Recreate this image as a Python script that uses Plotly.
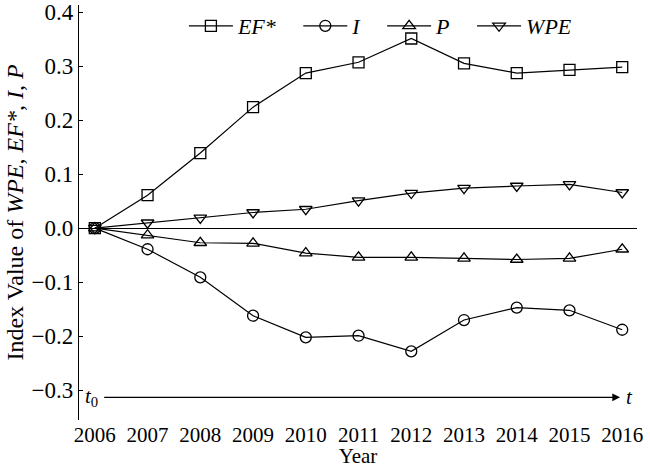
import plotly.graph_objects as go

years = [2006, 2007, 2008, 2009, 2010, 2011, 2012, 2013, 2014, 2015, 2016]
ef = [0.0, 0.061, 0.139, 0.224, 0.287, 0.307, 0.351, 0.305, 0.287, 0.293, 0.298]
inn = [0.0, -0.039, -0.091, -0.162, -0.202, -0.199, -0.228, -0.170, -0.147, -0.152, -0.188]
pp = [0.0, -0.013, -0.027, -0.028, -0.046, -0.054, -0.054, -0.056, -0.058, -0.056, -0.039]
wpe = [0.0, 0.010, 0.019, 0.029, 0.035, 0.051, 0.065, 0.074, 0.078, 0.081, 0.066]
yticks = [-0.3, -0.2, -0.1, 0.0, 0.1, 0.2, 0.3, 0.4]
ytick_text = ["\u22120.3", "\u22120.2", "\u22120.1", "0.0", "0.1", "0.2", "0.3", "0.4"]

FONT = "Liberation Serif"
PAD = "\u00a0" * 3
LEAD = "\u00a0" * 8

series = [
    ("<i>EF*</i>", ef, "square-open"),
    ("<i>I</i>", inn, "circle-open"),
    ("<i>P</i>", pp, "triangle-up-open"),
    ("<i>WPE</i>", wpe, "triangle-down-open"),
]

fig = go.Figure()
for name, vals, sym in series:
    fig.add_trace(go.Scatter(
        x=years, y=vals, name=name + PAD, mode="lines+markers",
        line=dict(color="black", width=1.2),
        marker=dict(symbol=sym, size=11, color="black", line=dict(width=1.3, color="black")),
    ))

fig.update_layout(
    width=650, height=468,
    margin=dict(l=79, r=13, t=5, b=48),
    paper_bgcolor="white", plot_bgcolor="white",
    font=dict(family=FONT, size=21, color="black"),
    showlegend=True,
    legend=dict(orientation="h", x=0.188, y=1.0, xanchor="left", yanchor="top",
                bgcolor="rgba(0,0,0,0)", font=dict(size=22, family=FONT), itemwidth=44),
    xaxis=dict(range=[2005.7, 2016.28], tickmode="array", tickvals=years,
               ticktext=[str(y) for y in years], showline=False, showgrid=False,
               zeroline=False, ticks="", automargin=False,
               tickfont=dict(size=21, family=FONT),
               title=dict(text="Year", standoff=0, font=dict(size=21, family=FONT))),
    yaxis=dict(range=[-0.355, 0.413], tickmode="array", tickvals=yticks, ticktext=ytick_text,
               showline=True, linecolor="black", linewidth=1.3, showgrid=False,
               zeroline=True, zerolinecolor="black", zerolinewidth=1.3,
               ticks="inside", ticklen=4, tickcolor="black", tickwidth=1.2, automargin=False,
               ticklabeloverflow="allow",
               tickfont=dict(size=23, family=FONT),
               title=dict(text=LEAD + "Index Value of <i>WPE</i>, <i>EF*</i>, <i>I</i>, <i>P</i>",
                          standoff=1, font=dict(size=24, family=FONT))),
)

fig.add_annotation(x=2015.96, y=-0.313, ax=2006.15, ay=-0.313, xref="x", yref="y",
                   axref="x", ayref="y", text="", showarrow=True, arrowhead=2,
                   arrowsize=1.3, arrowwidth=1.2, arrowcolor="black")
fig.add_annotation(x=2005.94, y=-0.313, xref="x", yref="y", text="<i>t</i><sub>0</sub>",
                   showarrow=False, font=dict(size=21, family=FONT))
fig.add_annotation(x=2016.14, y=-0.313, xref="x", yref="y", text="<i>t</i>",
                   showarrow=False, font=dict(size=21, family=FONT))

fig.write_html("out.html", config={"displayModeBar": False},
               post_script="document.body.style.margin='0';")
